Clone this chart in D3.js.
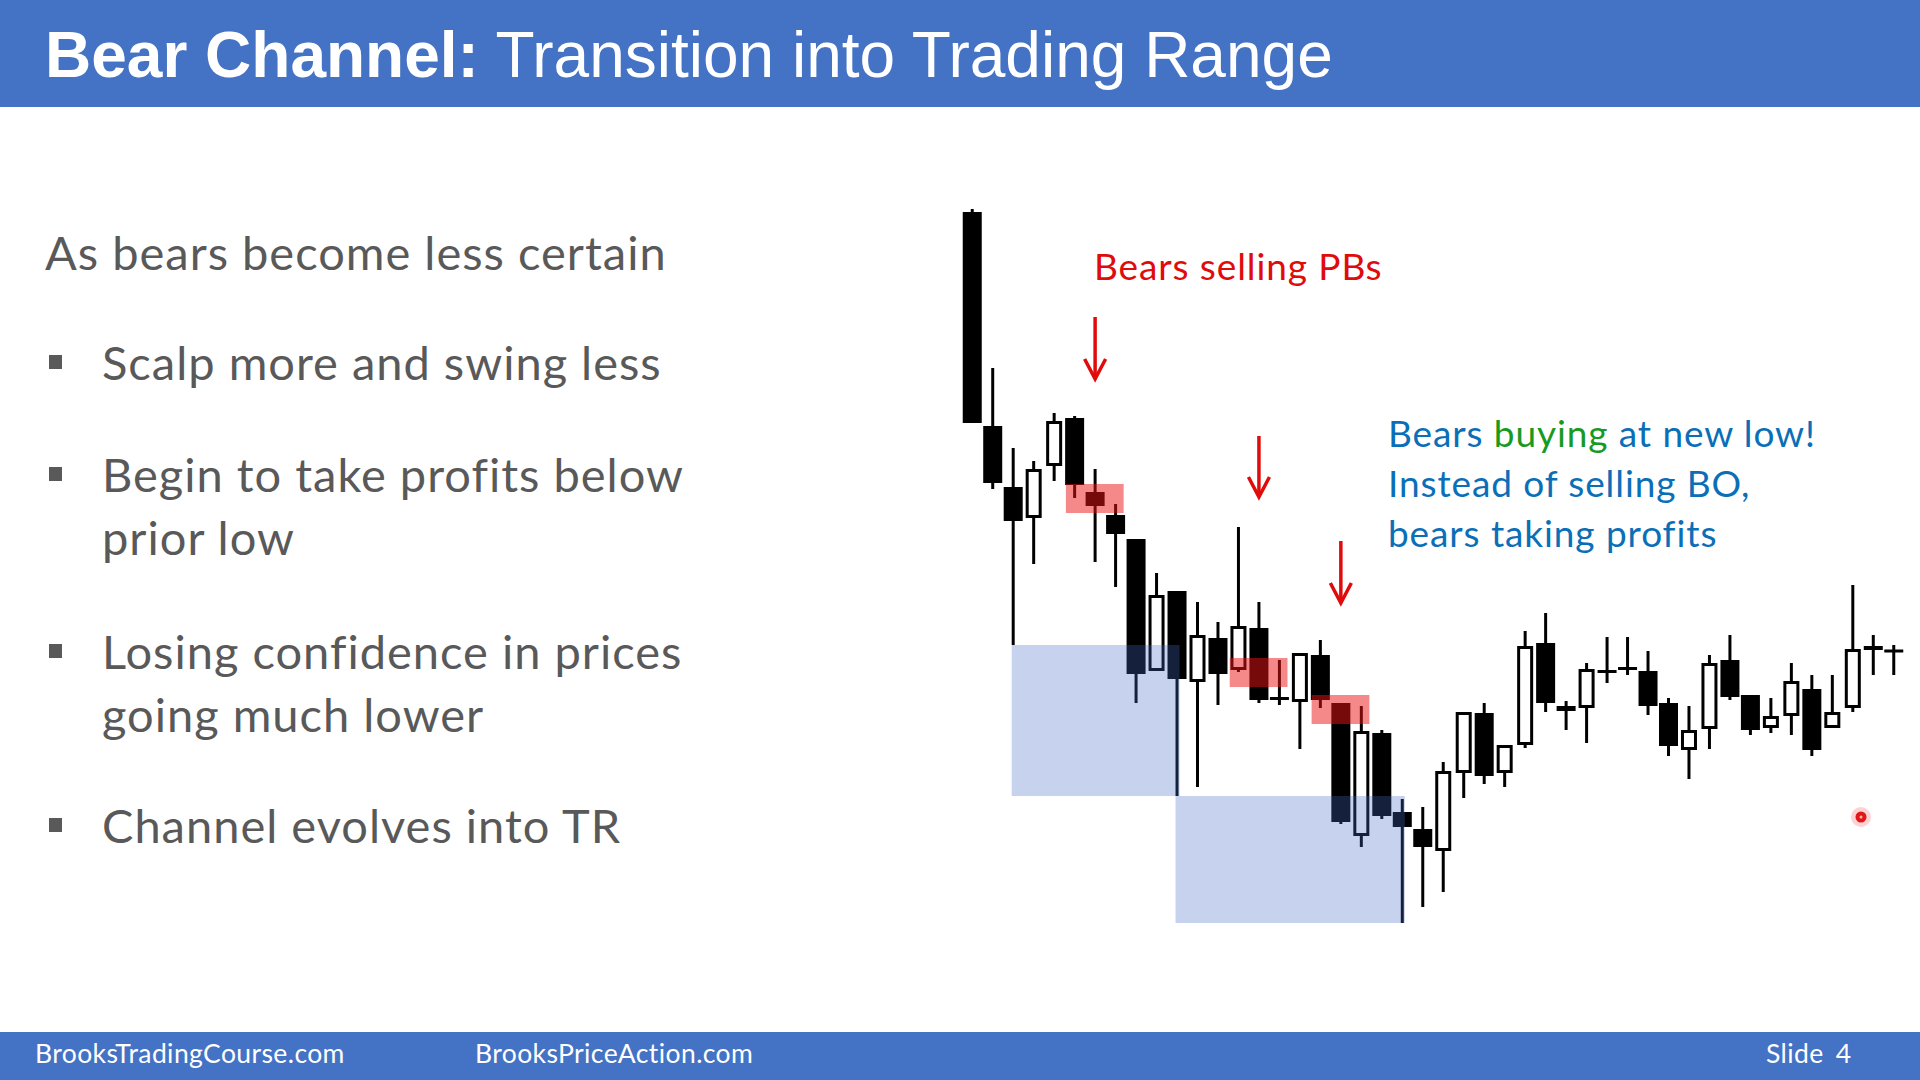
<!DOCTYPE html>
<html>
<head>
<meta charset="utf-8">
<script src="https://cdn.jsdelivr.net/npm/d3@7/dist/d3.min.js"></script>
<style>
  html, body { margin: 0; padding: 0; background: #ffffff; }
  svg { display: block; }
</style>
</head>
<body>
<svg id="chart" width="1920" height="1080"></svg>
<script>
// ---------------- DATA ----------------
// OHLC values (arbitrary price units), one per bar
const opens  = [78.8,57.4,51.3,48.2,53.4,58.2,50.8,48.5,46.1,32.9,40.9,31.8,36.2,33.0,37.2,30.3,29.8,34.5,29.7,16.4,26.7,18.8,17.1,14.9,22.7,28.7,22.7,25.5,35.7,29.4,29.2,33.0,33.3,32.9,29.7,25.0,27.1,34.0,30.5,27.2,28.4,31.1,27.2,29.2,35.4,34.9];
const highs  = [79.1,63.2,55.2,53.9,58.7,58.4,53.1,49.6,46.1,42.7,40.9,39.8,37.8,47.3,39.8,34.0,34.7,36.0,29.7,29.4,27.0,20.1,19.3,23.8,28.8,29.7,25.5,36.9,38.7,29.9,33.7,36.3,36.3,34.9,30.2,29.4,34.5,36.5,30.5,30.2,33.7,32.5,32.5,41.5,36.5,35.5];
const lows   = [57.7,51.1,35.5,43.6,51.9,50.2,43.8,41.3,29.7,32.9,20.4,21.3,29.5,32.8,29.7,29.5,25.1,29.2,17.6,15.3,18.1,7.7,9.3,10.8,20.2,21.6,21.3,25.2,28.8,27.0,25.7,31.7,32.5,28.5,24.4,22.1,25.1,30.0,26.5,26.7,26.5,24.4,27.2,28.8,32.5,32.5];
const closes = [57.7,51.7,47.9,53.1,57.9,51.5,49.4,46.6,32.6,40.5,32.1,36.5,32.6,37.4,30.0,30.0,34.7,30.0,17.8,26.9,18.4,17.3,15.3,22.9,28.8,22.4,25.5,35.4,29.7,28.9,33.1,32.7,33.0,29.4,25.4,27.0,33.7,30.3,27.0,28.4,31.9,25.0,28.8,35.1,35.0,34.7];

// blue zones: from the low of one bar to the low of a later bar
const zoneFrom = [2, 10];
const zoneTo   = [10, 21];

// red pullback highlights: first bar index, top and bottom price
const pbStart  = [5, 13, 17];
const pbTop    = [51.6, 34.2, 30.5];
const pbBottom = [48.7, 31.3, 27.6];

// red arrows: bar index, arrow top price, arrow tip price
const arrowBar = [6, 14, 18];
const arrowTop = [68.3, 56.4, 45.9];
const arrowTip = [62.1, 50.3, 39.7];

// texts
const titleBold = "Bear Channel:";
const titleRest = " Transition into Trading Range";
const introLine = "As bears become less certain";
const bullets = [
  ["Scalp more and swing less"],
  ["Begin to take profits below", "prior low"],
  ["Losing confidence in prices", "going much lower"],
  ["Channel evolves into TR"]
];
const redNote = "Bears selling PBs";
const blueNote = [
  [["Bears ", "#0B6FB8"], ["buying", "#179A22"], [" at new low!", "#0B6FB8"]],
  [["Instead of selling BO,", "#0B6FB8"]],
  [["bears taking profits", "#0B6FB8"]]
];
const footerLeft = ["BrooksTradingCourse.com", "BrooksPriceAction.com"];
const slideLabel = "Slide";
const slideNum = "4";

// ---------------- LAYOUT ----------------
const svg = d3.select("#chart");
const W = 1920, H = 1080;
const blue = "#4472C4";
const textGray = "#595959";
const red = "#E00B0B";

svg.append("rect").attr("x", 0).attr("y", 0).attr("width", W).attr("height", H).attr("fill", "#ffffff");

// header
svg.append("rect").attr("x", 0).attr("y", 0).attr("width", W).attr("height", 107).attr("fill", blue);
const title = svg.append("text").attr("x", 45).attr("y", 77)
  .attr("font-family", "'Liberation Sans', Arial, sans-serif").attr("font-size", 64).attr("fill", "#ffffff");
title.append("tspan").attr("font-weight", "bold").text(titleBold);
title.append("tspan").attr("font-weight", "normal").text(titleRest);

// footer
svg.append("rect").attr("x", 0).attr("y", 1032).attr("width", W).attr("height", 48).attr("fill", blue);
const footFont = "Lato, 'Open Sans', sans-serif";
[35, 475].forEach((fx, i) => {
  svg.append("text").attr("x", fx).attr("y", 1063).attr("font-family", footFont)
    .attr("font-size", 26.5).attr("letter-spacing", 0.4).attr("fill", "#ffffff").text(footerLeft[i]);
});
svg.append("text").attr("x", 1766).attr("y", 1063).attr("font-family", footFont)
  .attr("font-size", 26.5).attr("letter-spacing", 0.4).attr("fill", "#ffffff").text(slideLabel);
svg.append("text").attr("x", 1851).attr("y", 1063).attr("text-anchor", "end").attr("font-family", footFont)
  .attr("font-size", 26.5).attr("fill", "#ffffff").text(slideNum);

// left text block
const bodyFont = "Lato, 'Open Sans', sans-serif";
const bodySize = 47;
const bodySpacing = 1;
svg.append("text").attr("x", 45).attr("y", 270).attr("font-family", bodyFont)
  .attr("font-size", bodySize).attr("letter-spacing", bodySpacing).attr("fill", textGray).text(introLine);
const bulletBase = [380, 492, 669, 843];
const lineGap = 63;
bullets.forEach((lines, i) => {
  const by = bulletBase[i];
  svg.append("rect").attr("x", 49).attr("y", by - 25).attr("width", 13).attr("height", 14).attr("fill", textGray);
  lines.forEach((ln, j) => {
    svg.append("text").attr("x", 102).attr("y", by + j * lineGap).attr("font-family", bodyFont)
      .attr("font-size", bodySize).attr("letter-spacing", bodySpacing).attr("fill", textGray).text(ln);
  });
});

// ---------------- CANDLE CHART ----------------
const n = opens.length;
const x = d3.scaleBand().domain(d3.range(n)).range([962, 1904]).padding(0);
const y = d3.scaleLinear().domain([d3.min(lows), d3.max(highs)]).range([923, 209]);
const cx = i => x(i) + x.bandwidth() / 2;
const step = x.step();
const blackW = 19, whiteW = 16, sw = 3;

const g = svg.append("g");
const bars = d3.range(n).map(i => ({ i, o: opens[i], h: highs[i], l: lows[i], c: closes[i] }));

// wicks
g.selectAll("line.wick").data(bars).join("line").attr("class", "wick")
  .attr("x1", d => cx(d.i)).attr("x2", d => cx(d.i))
  .attr("y1", d => y(d.h)).attr("y2", d => y(d.l))
  .attr("stroke", "#000").attr("stroke-width", sw);

// bear bodies (filled black)
g.selectAll("rect.bear").data(bars.filter(d => d.c <= d.o)).join("rect").attr("class", "bear")
  .attr("x", d => cx(d.i) - blackW / 2)
  .attr("y", d => Math.min(y(d.o), y(d.c)) - (Math.abs(y(d.o) - y(d.c)) < 3 ? 1.5 : 0))
  .attr("width", blackW)
  .attr("height", d => Math.max(3, Math.abs(y(d.o) - y(d.c))))
  .attr("fill", "#000");

// bull bodies (white with black outline)
g.selectAll("rect.bull").data(bars.filter(d => d.c > d.o)).join("rect").attr("class", "bull")
  .attr("x", d => cx(d.i) - whiteW / 2 + sw / 2)
  .attr("y", d => y(d.c) + sw / 2)
  .attr("width", whiteW - sw)
  .attr("height", d => Math.max(1, y(d.o) - y(d.c) - sw))
  .attr("fill", "#fff").attr("stroke", "#000").attr("stroke-width", sw);

// blue zones (overlay)
zoneFrom.forEach((f, k) => {
  const t = zoneTo[k];
  const x0 = cx(f) - 1.5, x1 = cx(t) + 2.5;
  svg.append("rect").attr("x", x0).attr("y", y(lows[f]))
    .attr("width", x1 - x0).attr("height", y(lows[t]) - y(lows[f]))
    .attr("fill", "rgb(70,110,200)").attr("fill-opacity", 0.3);
});

// red pullback highlights (overlay)
pbStart.forEach((s, k) => {
  const x0 = x(s) + 1.5;
  svg.append("rect").attr("x", x0).attr("y", y(pbTop[k]))
    .attr("width", step * 2.82).attr("height", y(pbBottom[k]) - y(pbTop[k]))
    .attr("fill", "rgb(235,20,20)").attr("fill-opacity", 0.5);
});

// red arrows
arrowBar.forEach((b, k) => {
  const ax = cx(b), y0 = y(arrowTop[k]), y1 = y(arrowTip[k]);
  svg.append("line").attr("x1", ax).attr("x2", ax).attr("y1", y0).attr("y2", y1 - 2)
    .attr("stroke", red).attr("stroke-width", 3.5);
  svg.append("path").attr("d", `M${ax - 10.5},${y1 - 20} L${ax},${y1} L${ax + 10.5},${y1 - 20}`)
    .attr("fill", "none").attr("stroke", red).attr("stroke-width", 3.5)
    .attr("stroke-linejoin", "miter").attr("stroke-linecap", "butt");
});

// annotations
const noteFont = "Lato, 'Open Sans', sans-serif";
const noteSize = 37;
const noteSpacing = 0.9;
svg.append("text").attr("x", 1094).attr("y", 280).attr("font-family", noteFont)
  .attr("font-size", noteSize).attr("letter-spacing", noteSpacing).attr("fill", red).text(redNote);
blueNote.forEach((parts, j) => {
  const t = svg.append("text").attr("x", 1388).attr("y", 447 + j * 50)
    .attr("font-family", noteFont).attr("font-size", noteSize).attr("letter-spacing", noteSpacing);
  parts.forEach(p => t.append("tspan").attr("fill", p[1]).text(p[0]));
});

// cursor dot
svg.append("circle").attr("cx", 1861).attr("cy", 817).attr("r", 10).attr("fill", "rgb(240,80,80)").attr("fill-opacity", 0.25);
svg.append("circle").attr("cx", 1861).attr("cy", 817).attr("r", 5.5).attr("fill", "#E01818");
svg.append("circle").attr("cx", 1861).attr("cy", 817).attr("r", 1.5).attr("fill", "#ffb0b0");
</script>
</body>
</html>
